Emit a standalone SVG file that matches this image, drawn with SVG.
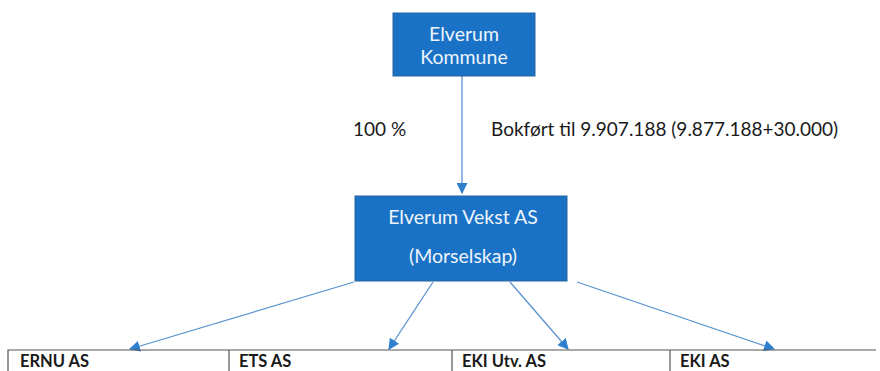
<svg xmlns="http://www.w3.org/2000/svg" width="880" height="371" viewBox="0 0 880 371">
<style>
.box{fill:#1a72c6;stroke:#2b64a0;stroke-width:1}
.wt{fill:#eef4fb;font-family:Lato,"Open Sans",sans-serif;font-size:19.5px;text-anchor:middle}
.bt{fill:#1a1a1a;font-family:Lato,"Open Sans",sans-serif;font-size:19px}
.lbl{fill:#1a1a1a;font-family:Lato,"Open Sans",sans-serif;font-size:16.5px;font-weight:bold}
.con{stroke:#5a93d2;stroke-width:1.3;fill:none;marker-end:url(#ah)}
.tbl{stroke:#555;stroke-width:1.2;fill:none}
</style>
<defs>
<marker id="ah" viewBox="0 0 10 10" refX="9" refY="5" markerWidth="11" markerHeight="11" markerUnits="userSpaceOnUse" orient="auto">
<path d="M0,0 L10,5 L0,10 z" fill="#2f7fcf"/>
</marker>
</defs>
<g id="connectors">
<line class="con" x1="462" y1="76" x2="462" y2="193"/>
<line class="con" x1="354" y1="282" x2="130" y2="349"/>
<line class="con" x1="433" y1="282" x2="389" y2="349"/>
<line class="con" x1="510" y1="282" x2="568" y2="349"/>
<line class="con" x1="577" y1="282" x2="774" y2="349"/>
</g>
<g id="n-kommune">
<rect class="box" x="393" y="13" width="142" height="63"/>
<text class="wt" x="464" y="41">Elverum</text>
<text class="wt" x="464" y="64">Kommune</text>
</g>
<g id="edge-labels">
<text class="bt" x="353" y="136">100 %</text>
<text class="bt" x="491" y="136">Bokført til 9.907.188 (9.877.188+30.000)</text>
</g>
<g id="n-vekst">
<rect class="box" x="355" y="196" width="212" height="85"/>
<text class="wt" x="463" y="224">Elverum Vekst AS</text>
<text class="wt" x="463" y="263">(Morselskap)</text>
</g>
<g id="table">
<path class="tbl" d="M8,371 L8,350 L876,350 M229,350 L229,371 M452,350 L452,371 M670,350 L670,371"/>
</g>
<g id="n-ernu"><text class="lbl" x="20" y="367">ERNU AS</text></g>
<g id="n-ets"><text class="lbl" x="239" y="367">ETS AS</text></g>
<g id="n-ekiutv"><text class="lbl" x="462" y="367">EKI Utv. AS</text></g>
<g id="n-eki"><text class="lbl" x="680" y="367">EKI AS</text></g>
</svg>
